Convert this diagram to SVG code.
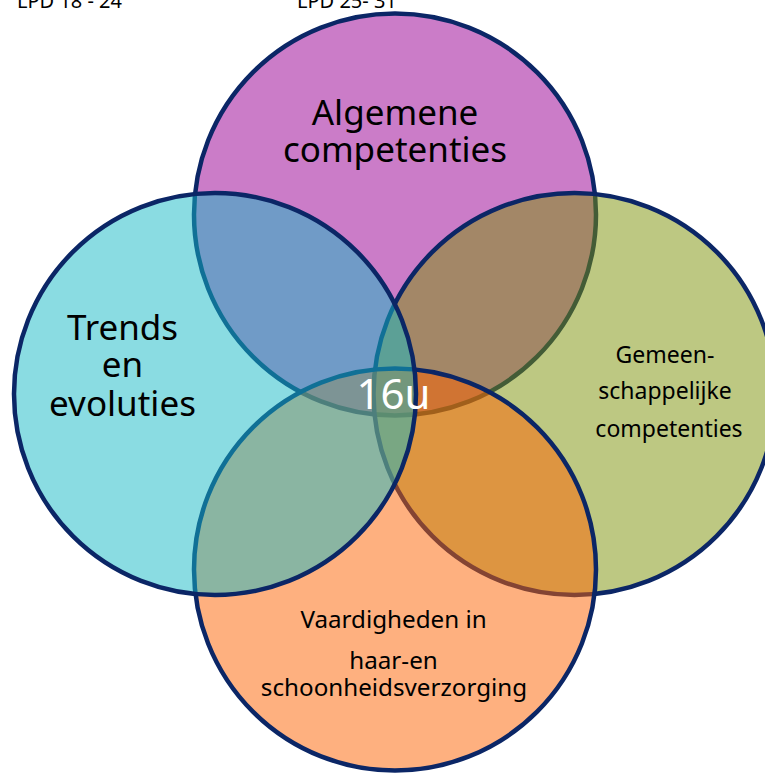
<svg xmlns="http://www.w3.org/2000/svg" width="765" height="775" viewBox="0 0 765 775">
  <style>
    .c { stroke: #0b2666; stroke-width: 4.5; }
    .t { font-family: "Noto Sans", "DejaVu Sans", sans-serif; fill: #000; text-anchor: middle; }
    .big { font-size: 35px; }
    .mid { font-size: 24.2px; }
    .sm { font-size: 23px; }
    .hdr { font-family: "Noto Sans", "DejaVu Sans", sans-serif; font-size: 20px; fill: #000; }
  </style>
  <rect width="765" height="775" fill="#fff"/>
  <g id="header">
    <text class="hdr" x="17" y="8">LPD 18 - 24</text>
    <text class="hdr" x="297" y="8">LPD 25- 31</text>
  </g>
  <g id="node-algemene">
    <circle class="c" cx="395" cy="214.5" r="201" fill="#cb7cc8"/>
    <text class="t big" x="395" y="125">Algemene</text>
    <text class="t big" x="395" y="162">competenties</text>
  </g>
  <g id="node-gemeenschappelijke">
    <circle class="c" cx="574.5" cy="394" r="201" fill="rgb(123,145,5)" fill-opacity="0.5"/>
    <text class="t sm" x="665" y="363">Gemeen-</text>
    <text class="t sm" x="665" y="399">schappelijke</text>
    <text class="t sm" x="669" y="437">competenties</text>
  </g>
  <g id="node-vaardigheden">
    <circle class="c" cx="395" cy="569.5" r="201" fill="rgb(253,97,0)" fill-opacity="0.5"/>
    <text class="t mid" x="393.5" y="628">Vaardigheden in</text>
    <text class="t mid" x="393.5" y="669">haar-en</text>
    <text class="t mid" x="394" y="696">schoonheidsverzorging</text>
  </g>
  <g id="node-trends">
    <circle class="c" cx="215" cy="394" r="201" fill="rgb(21,185,197)" fill-opacity="0.5"/>
    <text class="t big" x="122.5" y="340">Trends</text>
    <text class="t big" x="122.5" y="377">en</text>
    <text class="t big" x="122.5" y="416">evoluties</text>
  </g>
  <g id="connectors"></g>
  <g id="center-label">
    <text class="t" x="393.5" y="409" style="font-size:42px;fill:#fff">16u</text>
  </g>
</svg>
